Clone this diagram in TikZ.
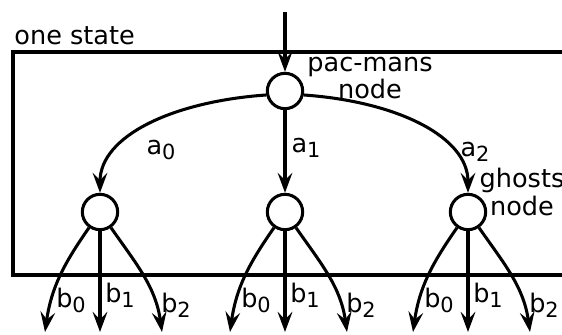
\documentclass[tikz,border=0pt]{standalone}
\usepackage{fontspec}
\setmainfont{DejaVu Sans}
\usetikzlibrary{arrows.meta,positioning,calc}
\newcommand\lowsub[1]{\raisebox{-0.22em}{\fontsize{8.9}{9}\selectfont #1}}

\begin{document}
\begin{tikzpicture}[
  x=0.015cm,y=0.015cm,
  every node/.style={font=\fontsize{10.9}{8.5}\selectfont},
  choice/.style={draw,circle,line width=1.3pt,minimum size=0.53cm,inner sep=0pt},
  arr/.style={-{Stealth[length=3mm,width=2.2mm,inset=1.1mm]},line width=1.3pt},
  frame/.style={line width=1.3pt},
  lbl/.style={inner sep=0pt},
]
\useasboundingbox (0,0) rectangle (562,334);

%% ── one state ───────────────────────────────────────────────
\draw[frame] (13,282) rectangle (580,59);
\node[lbl,anchor=base west] (statelbl) at (14,289) {one state};

%% ── pac-mans node ───────────────────────────────────────────
\coordinate (start) at (285,322);
\node[choice] (pac) at (285,243) {};
\node[lbl,align=center] (paclbl) at (370,256) {pac-mans\\node};

%% ── ghosts nodes ────────────────────────────────────────────
\foreach \i/\x in {0/100,1/285,2/468}
  \node[choice] (g\i) at (\x,122) {};
\node[lbl,align=center] (ghostlbl) at (522,142) {ghosts\\node};

%% ── pac-man moves ───────────────────────────────────────────
\draw[arr] (start) -- (pac);
\draw[arr] (pac.192) to[out=184,in=90,out looseness=1.25,in looseness=0.75] (g0);
\draw[arr] (pac) -- (g1);
\draw[arr] (pac.-12) to[out=-4,in=90,out looseness=1.25,in looseness=0.75] (g2);
\node[lbl] (a0) at (161,184) {a\lowsub{0}};
\node[lbl] (a1) at (306,186) {a\lowsub{1}};
\node[lbl] (a2) at (475,182) {a\lowsub{2}};

%% ── ghost moves ─────────────────────────────────────────────
\foreach \i in {0,1,2}{
  \path (g\i) ++(-55,-120) coordinate (e\i0)
        (g\i) ++(0,-120)   coordinate (e\i1)
        (g\i) ++(62,-120)  coordinate (e\i2);
  \draw[arr] (g\i) to[out=-125,in=82] (e\i0);
  \draw[arr] (g\i) -- (e\i1);
  \draw[arr] (g\i) to[out=-55,in=98] (e\i2);
  \node[lbl,anchor=base] (b\i0) at ($(g\i)+(-29,-95)$) {b\lowsub{0}};
  \node[lbl,anchor=base] (b\i1) at ($(g\i)+(20,-90)$)  {b\lowsub{1}};
  \node[lbl,anchor=base] (b\i2) at ($(g\i)+(76,-100)$) {b\lowsub{2}};
}

\end{tikzpicture}
\end{document}
